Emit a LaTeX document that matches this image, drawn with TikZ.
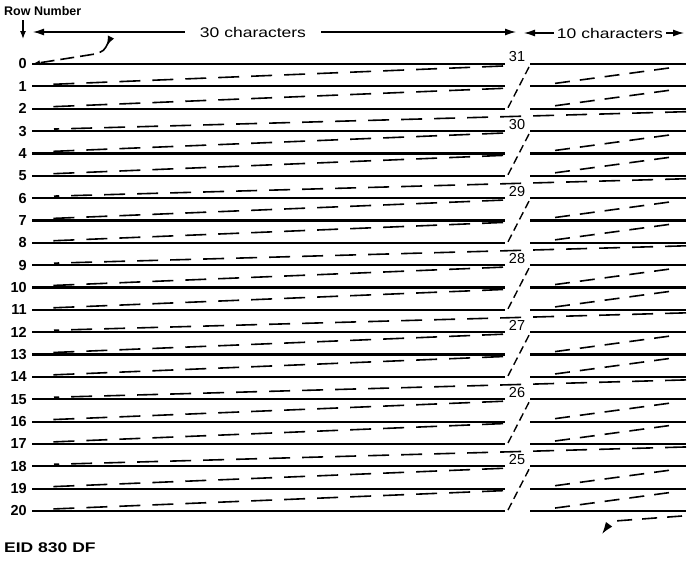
\documentclass[tikz,border=0pt]{standalone}
\usepackage{fontspec}
\setmainfont{Liberation Sans}
\newfontfamily\widefont{Liberation Sans}[FakeStretch=1.25]
\usetikzlibrary{arrows.meta,positioning,calc}

\begin{document}
\begin{tikzpicture}[
        x=1pt, y=-1pt,
        scan/.style={line width=2.2pt},
        retrace/.style={line width=1.6pt, dash pattern=on 21pt off 12pt},
        shortrace/.style={line width=1.6pt, dash pattern=on 15pt off 10pt},
        jump/.style={line width=1.4pt, dash pattern=on 8pt off 4.6pt},
        rowno/.style={anchor=east, inner sep=0pt, font=\bfseries\fontsize{14.5}{15}\selectfont},
        fieldno/.style={inner sep=0pt, font=\fontsize{14.5}{15}\selectfont},
        span/.style={font=\widefont\fontsize{14}{15}\selectfont},
        dim/.style={line width=1.2pt, -{Latex[length=11pt,width=7pt]}}
    ]
    \useasboundingbox (0,0) rectangle (691,565);

    \foreach \r in {0,...,20} {
        \pgfmathsetmacro{\y}{64+22.35*\r}
        \coordinate (L\r) at (32,\y);
        \coordinate (M\r) at (505,\y);
        \coordinate (R\r) at (530,\y);
        \coordinate (E\r) at (686,\y);
        \node[rowno] (n\r) at (27,\y) {\r};
        \draw[scan] (L\r) -- (M\r);
        \draw[scan] (R\r) -- (E\r);
    }

    \foreach \r in {0,...,19} {
        \pgfmathtruncatemacro{\n}{\r+1}
        \pgfmathtruncatemacro{\m}{mod(\r,3)}
        \ifnum\m=2
            \draw[retrace] ($(E\r)+(0,3)$) -- ($(L\n)+(22,-2)$);
        \else
            \draw[retrace] ($(M\r)+(-2,2)$) -- ($(L\n)+(20,-2)$);
            \draw[shortrace] ($(E\r)+(-17,4)$) -- ($(R\n)+(18,-2)$);
        \fi
    }

    \foreach \k in {0,...,6} {
        \pgfmathtruncatemacro{\a}{3*\k}
        \pgfmathtruncatemacro{\c}{3*\k+2}
        \pgfmathtruncatemacro{\f}{31-\k}
        \node[fieldno] (f\k) at ($(R\a)+(-13,-7)$) {\f};
        \draw[jump] ($(R\a)+(-1,3)$) -- ($(M\c)+(3,-1)$);
    }

    \node[anchor=west, inner sep=0pt, font=\bfseries\fontsize{12.5}{13}\selectfont] (rowhead) at (4,11) {Row Number};
    \coordinate (rtop) at (23,20);
    \coordinate (rbot) at (23,39);
    \draw[line width=1.2pt, -{Latex[length=8pt,width=6pt]}] (rtop) -- (rbot);

    \node[span, inner xsep=15pt] (c30) at (253,32) {30 characters};
    \node[span, inner xsep=3pt] (c10) at (610,33) {10 characters};
    \coordinate (c30l) at (33,32);
    \coordinate (c30r) at (516,32);
    \coordinate (c10l) at (524,33);
    \coordinate (c10r) at (684,33);
    \draw[dim] (c30) -- (c30l);
    \draw[dim] (c30) -- (c30r);
    \draw[dim] (c10) -- (c10l);
    \draw[dim] (c10) -- (c10r);

    \coordinate (entry) at (111,37);
    \coordinate (exit) at (602,534);
    \draw[retrace, dash pattern=on 14pt off 6pt, {Latex[reversed,length=10pt,width=7pt]}-{Latex[length=8pt,width=5pt]}] (entry) .. controls (104,51) .. (95,54) -- (L0);
    \draw[shortrace, -{Latex[length=12pt,width=8pt]}] ($(E20)+(-4,5)$) -- (615,521) .. controls (610,523) .. (exit);

    \node[anchor=west, inner sep=0pt, font=\widefont\bfseries\fontsize{14}{15}\selectfont] (eid) at (4,548) {EID 830 DF};
\end{tikzpicture}
\end{document}
